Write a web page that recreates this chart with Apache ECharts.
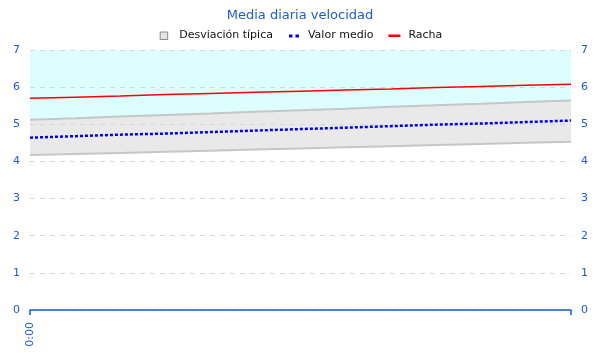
<!DOCTYPE html>
<html><head><meta charset="utf-8">
<script src="https://cdn.jsdelivr.net/npm/echarts@6/dist/echarts.min.js"></script>
<style>html,body{margin:0;padding:0;background:#fff}#c{width:600px;height:360px}</style>
</head><body><div id="c"></div>
<script>
const categories = ['0:00','2:00','4:00','6:00','8:00','10:00','12:00','14:00','16:00','18:00','20:00','22:00','24:00'];
const racha        = [5.70,5.73,5.76,5.80,5.83,5.86,5.89,5.92,5.95,5.99,6.02,6.05,6.08];
const valorMedio   = [4.64,4.68,4.72,4.75,4.79,4.83,4.87,4.91,4.95,4.99,5.02,5.06,5.10];
const desvInferior = [4.17,4.20,4.23,4.26,4.29,4.32,4.35,4.38,4.41,4.44,4.47,4.50,4.53];
const desvSuperior = [5.12,5.16,5.21,5.25,5.29,5.34,5.38,5.42,5.47,5.51,5.55,5.60,5.64];
const yMin = 0, yMax = 7, yStep = 1;

const blue = '#1f5bd6';
const font = 'DejaVu Sans';
const chart = echarts.init(document.getElementById('c'), null, {renderer:'canvas'});
const bandWidth = desvSuperior.map((v,i)=> +(v - desvInferior[i]).toFixed(3));
const upperFill = desvSuperior.map(v=> +(yMax - v).toFixed(3));

const yAxisBase = {
  type:'value', min:yMin, max:yMax, interval:yStep,
  axisLine:{show:false}, axisTick:{show:false},
  axisLabel:{color:blue, fontFamily:font, fontSize:11, margin:10}
};

chart.setOption({
  animation:false,
  backgroundColor:'#fff',
  title:{text:'Media diaria velocidad', left:'center', top:4,
    textStyle:{color:blue, fontFamily:font, fontSize:13, fontWeight:'normal'}},
  legend:{
    top:25, left:'center', itemWidth:16, itemHeight:10, itemGap:14,
    textStyle:{color:'#111', fontFamily:font, fontSize:11},
    data:[
      {name:'Desviación típica', icon:'path://M0,0M16,10M2,1.5h7.5v7.5h-7.5z',
        itemStyle:{color:'#e4e4e4', borderColor:'#8a8a8a', borderWidth:1}},
      {name:'Valor medio', icon:'path://M0,0M16,10M2,4h3.5v3h-3.5zM8.5,4h3.5v3h-3.5z',
        itemStyle:{color:'#0000ee'}},
      {name:'Racha', icon:'path://M0,0M16,10M1,4h12v2.5h-12z',
        itemStyle:{color:'#ff0000'}}
    ]
  },
  grid:{left:30, right:29, top:50, bottom:50},
  xAxis:{
    type:'category', data:categories, boundaryGap:false, z:5,
    axisLine:{lineStyle:{color:'#0a62d0', width:1.5}},
    axisTick:{show:true, length:5, lineStyle:{color:'#0a62d0', width:1.5},
      interval:(i)=> i===0 || i===categories.length-1},
    axisLabel:{rotate:90, color:blue, fontFamily:font, fontSize:11, margin:12,
      interval:(i)=> i===0},
    splitLine:{show:false}
  },
  yAxis:[
    Object.assign({}, yAxisBase, {position:'left', z:3,
      splitLine:{show:true, lineStyle:{color:'#d8d8d8', type:[5,5], width:1}}}),
    Object.assign({}, yAxisBase, {position:'right', splitLine:{show:false}})
  ],
  series:[
    {name:'base', type:'line', stack:'b', data:desvInferior, symbol:'none',
      lineStyle:{color:'#c6c6c6', width:2}, z:2},
    {name:'Desviación típica', type:'line', stack:'b', data:bandWidth, symbol:'none',
      lineStyle:{color:'#c6c6c6', width:2}, areaStyle:{color:'#e9e9e9', opacity:1}, z:2},
    {name:'cielo', type:'line', stack:'b', data:upperFill, symbol:'none',
      lineStyle:{width:0}, areaStyle:{color:'#dcfefe', opacity:1}, z:1},
    {name:'Valor medio', type:'line', data:valorMedio, symbol:'none',
      lineStyle:{color:'#0000ee', width:2.5, type:[3,2]}, z:4},
    {name:'Racha', type:'line', data:racha, symbol:'none',
      lineStyle:{color:'#ff0000', width:1.5}, z:4}
  ]
});
</script></body></html>
